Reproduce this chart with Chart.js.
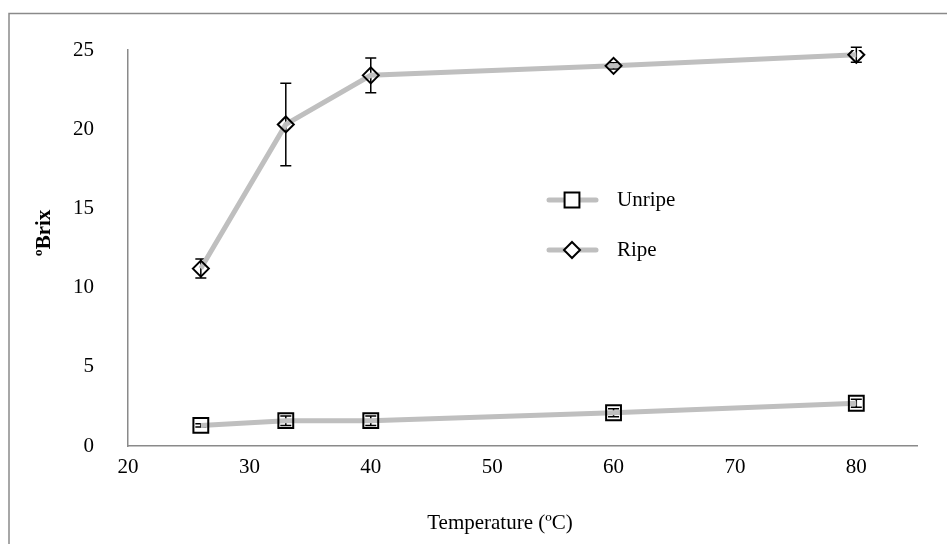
<!DOCTYPE html>
<html>
<head>
<meta charset="utf-8">
<script src="https://cdn.jsdelivr.net/npm/chart.js@4/dist/chart.umd.min.js"></script>
<style>
body { margin: 0; background: #fff; }
canvas { display: block; }
</style>
</head>
<body>
<canvas id="brixChart" width="947" height="544"></canvas>
<script>
// data
var temps = [26, 33, 40, 60, 80];
var unripe = [1.3, 1.6, 1.6, 2.1, 2.7];
var unripeErr = [0.1, 0.3, 0.3, 0.25, 0.25];
var ripe = [11.2, 20.3, 23.4, 24.0, 24.7];
var ripeErr = [0.6, 2.6, 1.1, 0.2, 0.48];
var seriesNames = ['Unripe', 'Ripe'];
var xTitle = 'Temperature (\u00baC)';
var yTitle = '\u00baBrix';

var FONT = '"Liberation Serif", "Times New Roman", serif';
var LINE_GRAY = '#bfbfbf';
var AXIS_GRAY = '#8a8a8a';

function pts(vals) {
  var out = [];
  for (var i = 0; i < temps.length; i++) out.push({x: temps[i], y: vals[i]});
  return out;
}

// draw a marker by hand (for the legend)
function marker(ctx, style, x, y, r) {
  ctx.beginPath();
  if (style == 'rect') {
    var h = r * Math.SQRT1_2;
    ctx.rect(x - h, y - h, 2 * h, 2 * h);
  } else {
    ctx.moveTo(x, y - r);
    ctx.lineTo(x + r, y);
    ctx.lineTo(x, y + r);
    ctx.lineTo(x - r, y);
    ctx.closePath();
  }
  ctx.fillStyle = '#fff';
  ctx.fill();
  ctx.lineWidth = 2;
  ctx.strokeStyle = '#000';
  ctx.stroke();
}

var frame = {
  id: 'frame',
  beforeDraw: function(chart) {
    var ctx = chart.ctx;
    ctx.save();
    ctx.strokeStyle = AXIS_GRAY;
    ctx.lineWidth = 1.5;
    ctx.strokeRect(9, 13.5, 1200, 1200);
    ctx.restore();
  }
};

var errorBars = {
  id: 'errorBars',
  beforeDatasetsDraw: function(chart) {
    var ctx = chart.ctx;
    var xs = chart.scales.x, ys = chart.scales.y;
    ctx.save();
    ctx.strokeStyle = '#000';
    ctx.lineWidth = 1.5;
    chart.data.datasets.forEach(function(ds) {
      for (var i = 0; i < ds.data.length; i++) {
        var e = ds.errors[i];
        var px = xs.getPixelForValue(ds.data[i].x);
        var top = ys.getPixelForValue(ds.data[i].y + e);
        var bot = ys.getPixelForValue(ds.data[i].y - e);
        ctx.beginPath();
        ctx.moveTo(px, top); ctx.lineTo(px, bot);
        ctx.moveTo(px - 5.5, top); ctx.lineTo(px + 5.5, top);
        ctx.moveTo(px - 5.5, bot); ctx.lineTo(px + 5.5, bot);
        ctx.stroke();
      }
    });
    ctx.restore();
  }
};

var labels = {
  id: 'labels',
  afterDraw: function(chart) {
    var ctx = chart.ctx;
    ctx.save();
    ctx.fillStyle = '#000';
    ctx.textBaseline = 'middle';
    // axis titles
    ctx.font = '21px ' + FONT;
    ctx.textAlign = 'center';
    ctx.fillText(xTitle, 500, 523);
    ctx.save();
    ctx.translate(45, 233);
    ctx.rotate(-Math.PI / 2);
    ctx.font = 'bold 21px ' + FONT;
    ctx.fillText(yTitle, 0, 0);
    ctx.restore();
    // legend inside the plot
    var rows = [200, 250];
    chart.data.datasets.forEach(function(ds, i) {
      var y = rows[i];
      ctx.beginPath();
      ctx.lineCap = 'round';
      ctx.strokeStyle = ds.borderColor;
      ctx.lineWidth = ds.borderWidth;
      ctx.moveTo(549, y); ctx.lineTo(596, y);
      ctx.stroke();
      marker(ctx, ds.pointStyle, 572, y, ds.pointRadius);
      ctx.fillStyle = '#000';
      ctx.textAlign = 'left';
      ctx.font = '21px ' + FONT;
      ctx.fillText(ds.label, 617, y);
    });
    ctx.restore();
  }
};

var ctx = document.getElementById('brixChart').getContext('2d');
var brixChart = new Chart(ctx, {
  type: 'line',
  data: {
    datasets: [{
      label: seriesNames[0],
      data: pts(unripe),
      errors: unripeErr,
      borderColor: LINE_GRAY,
      borderWidth: 5,
      pointStyle: 'rect',
      pointRadius: 10.5,
      pointBorderColor: '#000',
      pointBackgroundColor: 'rgba(0,0,0,0)',
      pointBorderWidth: 2
    }, {
      label: seriesNames[1],
      data: pts(ripe),
      errors: ripeErr,
      borderColor: LINE_GRAY,
      borderWidth: 5,
      pointStyle: 'rectRot',
      pointRadius: 8,
      pointBorderColor: '#000',
      pointBackgroundColor: 'rgba(0,0,0,0)',
      pointBorderWidth: 2
    }]
  },
  options: {
    responsive: false,
    animation: false,
    layout: { padding: { left: 0, top: 50, right: 30, bottom: 0 } },
    plugins: { legend: { display: false }, tooltip: { enabled: false } },
    scales: {
      x: {
        type: 'linear',
        min: 20, max: 85,
        grid: { drawOnChartArea: false, drawTicks: false },
        border: { display: true, color: AXIS_GRAY, width: 1.5 },
        ticks: { stepSize: 10, includeBounds: false, padding: 9, color: '#000', font: { family: FONT, size: 21 } },
        afterFit: function(s) { s.height = 98; }
      },
      y: {
        min: 0, max: 25,
        grid: { drawOnChartArea: false, drawTicks: false },
        border: { display: true, color: AXIS_GRAY, width: 1.5 },
        ticks: { stepSize: 5, padding: 34, color: '#000', font: { family: FONT, size: 21 } },
        afterFit: function(s) { s.width = 128; }
      }
    }
  },
  plugins: [frame, errorBars, labels]
});
</script>
</body>
</html>
